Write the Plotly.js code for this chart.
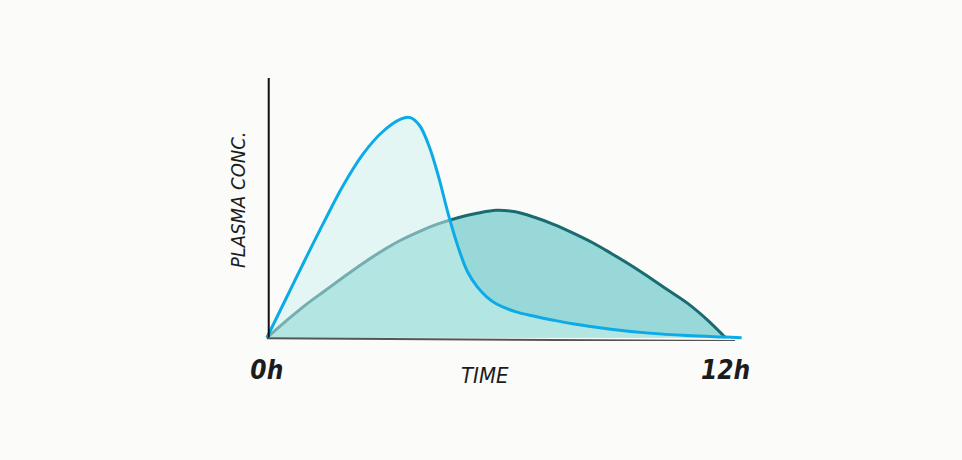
<!DOCTYPE html>
<html>
<head>
<meta charset="utf-8">
<script src="https://cdn.plot.ly/plotly-3.0.1.min.js"></script>
<style>html,body{margin:0;padding:0;background:#FBFBFA;}#chart{width:962px;height:460px;}</style>
</head>
<body>
<div id="chart"></div>
<script>
// Time in hours, concentration in % of the fast formulation's peak
const fastTime = [0, 0.5, 1, 1.5, 2, 2.5, 3, 3.5, 3.75, 4, 4.25, 4.5, 4.75, 5, 5.25, 5.5, 5.75, 6, 6.5, 7, 7.5, 8, 9, 10, 11, 12, 12.42];
const fastConc = [0, 17.8, 35.6, 53.0, 69.6, 83.5, 93.6, 99.8, 100.5, 96.8, 87.2, 73, 56.2, 41.6, 30.1, 23.3, 18.7, 15.5, 11.9, 9.8, 8, 6.4, 3.9, 2.1, 1, 0.3, 0];
const slowTime = [0, 0.5, 1, 1.5, 2, 2.5, 3, 3.5, 4, 4.5, 5, 5.5, 6, 6.5, 7, 7.5, 8, 8.5, 9, 9.5, 10, 10.5, 11, 11.5, 12];
const slowConc = [0, 7.6, 14.8, 21.2, 27.6, 33.8, 39.5, 44.5, 48.6, 52.1, 54.8, 56.8, 58.2, 57.5, 55, 51.8, 47.9, 43.6, 38.6, 33.3, 27.6, 21.7, 15.8, 8.5, 0];
const tickVals = [0, 12];
const tickText = ["0h", "12h"];
const xTitle = "TIME";
const yTitle = "PLASMA CONC.";

const traces = [
  {
    x: slowTime, y: slowConc, type: 'scatter', mode: 'lines',
    line: {color: '#1A6A72', width: 3, shape: 'spline', smoothing: 1},
    fill: 'tozeroy', fillcolor: 'rgb(152,216,217)', hoverinfo: 'skip'
  },
  {
    x: fastTime, y: fastConc, type: 'scatter', mode: 'lines',
    line: {color: '#0CAAE6', width: 3, shape: 'spline', smoothing: 1},
    fill: 'tozeroy', fillcolor: 'rgba(205,241,237,0.5)', hoverinfo: 'skip'
  }
];

const hand = "'Liberation Sans Narrow', 'DejaVu Sans Condensed', 'DejaVu Sans', sans-serif";
const layout = {
  width: 962, height: 460,
  margin: {l: 263, r: 202, t: 78, b: 119},
  paper_bgcolor: '#FBFBFA', plot_bgcolor: '#FBFBFA',
  showlegend: false,
  xaxis: {
    range: [-0.1, 12.9], showgrid: false, zeroline: false, showline: false,
    tickvals: tickVals, ticktext: tickText, ticks: 'outside', ticklen: 6,
    tickcolor: 'rgba(0,0,0,0)',
    tickfont: {family: hand, size: 26, color: '#1c1c1c', weight: 700, style: 'italic'}
  },
  yaxis: {
    range: [-1.5, 118.6], showgrid: false, zeroline: false, showline: false,
    showticklabels: false, ticks: ''
  },
  shapes: [
    {type: 'line', xref: 'x', yref: 'paper', x0: 0.05, x1: 0.05, y0: 0.012, y1: 1,
     line: {color: '#111', width: 2}},
    {type: 'line', xref: 'x', yref: 'y', x0: 0, x1: 12.25, y0: -0.3, y1: -1.5,
     line: {color: '#555', width: 2}}
  ],
  annotations: [
    {text: xTitle, xref: 'x', yref: 'paper', x: 5.7, y: -0.133, yanchor: 'middle', xanchor: 'center',
     showarrow: false, font: {family: hand, size: 22, color: '#1c1c1c', style: 'italic'}},
    {text: yTitle, xref: 'paper', yref: 'paper', x: -0.0503, y: 0.536, xanchor: 'center', yanchor: 'middle',
     showarrow: false, textangle: -90, font: {family: hand, size: 20, color: '#1c1c1c', style: 'italic'}}
  ]
};

Plotly.newPlot('chart', traces, layout, {displayModeBar: false, staticPlot: true});
</script>
</body>
</html>
